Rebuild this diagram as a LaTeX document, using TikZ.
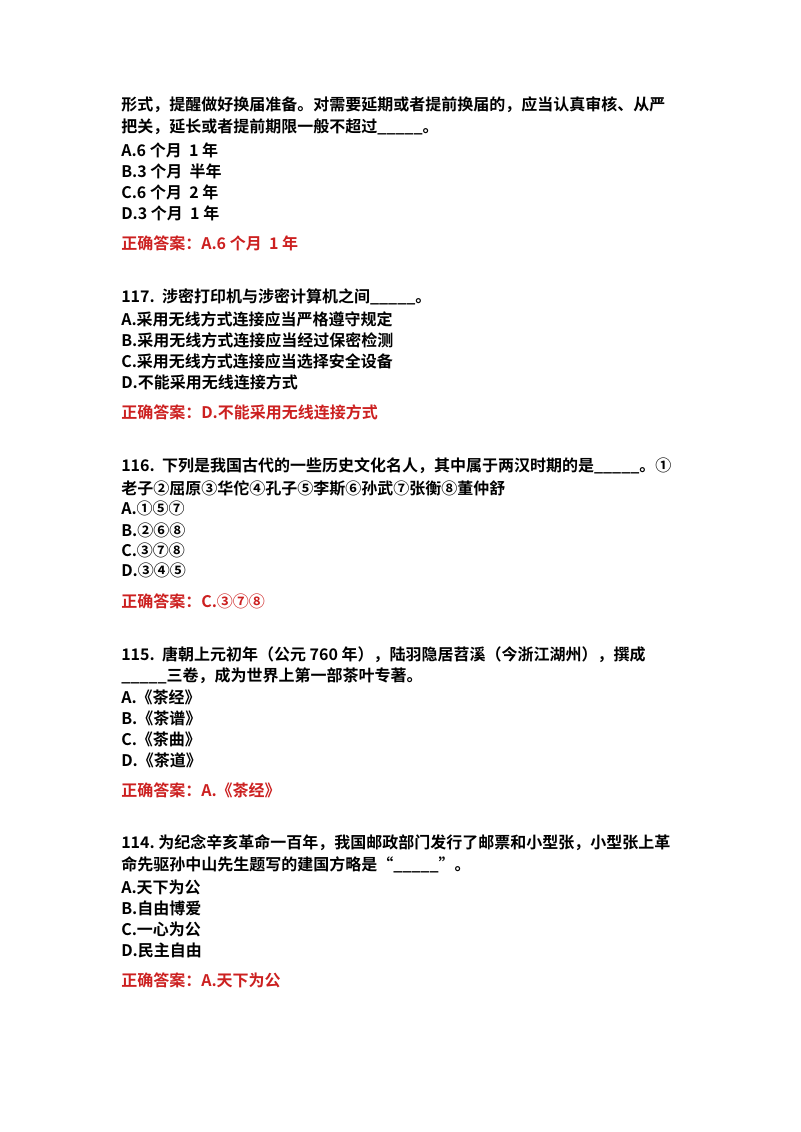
\documentclass[tikz,border=0pt]{standalone}
\usepackage{fontspec}
\setmainfont{Noto Sans CJK SC}[BoldFont={Noto Sans CJK SC Bold}]
\definecolor{ansred}{RGB}{204,32,32}
\tikzset{
  line/.style={anchor=west,inner sep=0pt,font=\fontsize{12}{14}\selectfont\bfseries},
  answer/.style={line,text=ansred}
}
\begin{document}
\begin{tikzpicture}[x=0.75pt,y=0.75pt,yscale=-1,xscale=1]
\useasboundingbox (0,0) rectangle (800,1132);

% Question 118 (tail)
\node[line] (q118a) at (121,105) {形式，提醒做好换届准备。对需要延期或者提前换届的，应当认真审核、从严};
\node[line] (q118b) at (121,127) {把关，延长或者提前期限一般不超过\_\_\_\_\_。};
\node[line] (q118o1) at (121,150) {A.6 个月\ \ 1 年};
\node[line] (q118o2) at (121,171) {B.3 个月\ \ 半年};
\node[line] (q118o3) at (121,192) {C.6 个月\ \ 2 年};
\node[line] (q118o4) at (121,213) {D.3 个月\ \ 1 年};
\node[answer] (q118ans) at (121,243) {正确答案：A.6 个月\ \ 1 年};

% Question 117
\node[line] (q117a) at (121,297) {117.\ \ 涉密打印机与涉密计算机之间\_\_\_\_\_。};
\node[line] (q117o1) at (121,319) {A.采用无线方式连接应当严格遵守规定};
\node[line] (q117o2) at (121,340) {B.采用无线方式连接应当经过保密检测};
\node[line] (q117o3) at (121,361) {C.采用无线方式连接应当选择安全设备};
\node[line] (q117o4) at (121,382) {D.不能采用无线连接方式};
\node[answer] (q117ans) at (121,412) {正确答案：D.不能采用无线连接方式};

% Question 116
\node[line] (q116a) at (121,466) {116.\ \ 下列是我国古代的一些历史文化名人，其中属于两汉时期的是\_\_\_\_\_。①};
\node[line] (q116b) at (121,488) {老子②屈原③华佗④孔子⑤李斯⑥孙武⑦张衡⑧董仲舒};
\node[line] (q116o1) at (121,508) {A.①⑤⑦};
\node[line] (q116o2) at (121,530) {B.②⑥⑧};
\node[line] (q116o3) at (121,550) {C.③⑦⑧};
\node[line] (q116o4) at (121,570) {D.③④⑤};
\node[answer] (q116ans) at (121,601) {正确答案：C.③⑦⑧};

% Question 115
\node[line] (q115a) at (121,655) {115.\ \ 唐朝上元初年（公元 760 年），陆羽隐居苕溪（今浙江湖州），撰成};
\node[line] (q115b) at (121,676) {\_\_\_\_\_三卷，成为世界上第一部茶叶专著。};
\node[line] (q115o1) at (121,697) {A.《茶经》};
\node[line] (q115o2) at (121,718) {B.《茶谱》};
\node[line] (q115o3) at (121,739) {C.《茶曲》};
\node[line] (q115o4) at (121,760) {D.《茶道》};
\node[answer] (q115ans) at (121,790) {正确答案：A.《茶经》};

% Question 114
\node[line] (q114a) at (121,843) {114.\ 为纪念辛亥革命一百年，我国邮政部门发行了邮票和小型张，小型张上革};
\node[line] (q114b) at (121,865) {命先驱孙中山先生题写的建国方略是“\_\_\_\_\_”。};
\node[line] (q114o1) at (121,887) {A.天下为公};
\node[line] (q114o2) at (121,908) {B.自由博爱};
\node[line] (q114o3) at (121,929) {C.一心为公};
\node[line] (q114o4) at (121,950) {D.民主自由};
\node[answer] (q114ans) at (121,980) {正确答案：A.天下为公};

\end{tikzpicture}
\end{document}
